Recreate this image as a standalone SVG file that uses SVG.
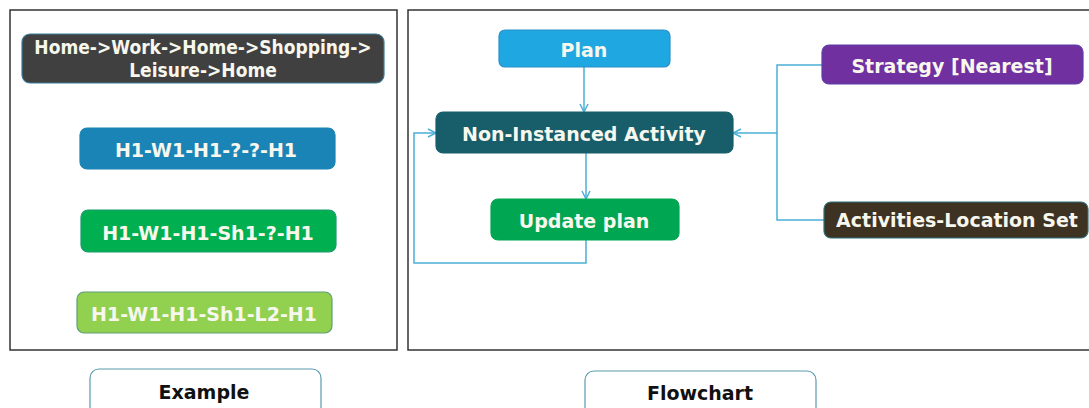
<svg xmlns="http://www.w3.org/2000/svg" width="1089" height="408" viewBox="0 0 1089 408">
<defs>
<marker id="arr" viewBox="0 0 10 10" refX="9" refY="5" markerWidth="10" markerHeight="10" markerUnits="userSpaceOnUse" orient="auto">
<path d="M1,1 L9,5 L1,9" fill="none" stroke="#4BAFD6" stroke-width="1.5"/>
</marker>
</defs>
<style>
.panel{fill:#fff;stroke:#333;stroke-width:1.5}
.node{stroke-width:1.2}
.t{font-family:"DejaVu Sans","Liberation Sans",Arial,sans-serif;font-weight:bold;fill:#F7F7EE;text-anchor:middle;font-size:19px}
.tc{font-family:"DejaVu Sans Condensed","DejaVu Sans","Liberation Sans",Arial,sans-serif;font-stretch:condensed;font-weight:bold;fill:#F7F7EE;text-anchor:middle;font-size:19px}
.lbl{font-family:"DejaVu Sans","Liberation Sans",Arial,sans-serif;font-weight:bold;fill:#111;text-anchor:middle;font-size:19px}
.cap{fill:#fff;stroke:#5A9AAE;stroke-width:1.2}
.conn{fill:none;stroke:#4BAFD6;stroke-width:1.5}
</style>
<rect width="1089" height="408" fill="#fff"/>
<rect class="panel" x="10" y="10" width="387" height="340"/>
<rect class="panel" x="408" y="10" width="690" height="340"/>

<g id="connectors">
<path class="conn" d="M584,67 V112" marker-end="url(#arr)"/>
<path class="conn" d="M586,153 V199" marker-end="url(#arr)"/>
<path class="conn" d="M586,240 V263 H414 V133 H436" marker-end="url(#arr)"/>
<path class="conn" d="M822,65 H777 V220 H824"/>
<path class="conn" d="M777,133 H733" marker-end="url(#arr)"/>
</g>

<g id="n-trip">
<rect class="node" x="22" y="34" width="362" height="49" rx="8" fill="#404040" stroke="#3A7C99"/>
<text class="tc" x="203" y="54">Home-&gt;Work-&gt;Home-&gt;Shopping-&gt;</text>
<text class="tc" x="203" y="77">Leisure-&gt;Home</text>
</g>
<g id="n-h1">
<rect class="node" x="80" y="128" width="255" height="41" rx="7" fill="#1A84B6" stroke="#1A84B6"/>
<text class="t" x="206" y="157">H1-W1-H1-?-?-H1</text>
</g>
<g id="n-h2">
<rect class="node" x="81" y="210" width="255" height="42" rx="7" fill="#00B050" stroke="#1A9A70"/>
<text class="t" x="208" y="240">H1-W1-H1-Sh1-?-H1</text>
</g>
<g id="n-h3">
<rect class="node" x="77" y="292" width="255" height="41" rx="7" fill="#92D050" stroke="#5E9E78"/>
<text class="t" x="204" y="321">H1-W1-H1-Sh1-L2-H1</text>
</g>
<g id="n-example">
<rect class="cap" x="90" y="369" width="231" height="50" rx="9"/>
<text class="lbl" x="204" y="399">Example</text>
</g>

<g id="n-plan">
<rect class="node" x="499" y="30" width="171" height="37" rx="6" fill="#1FA7E1" stroke="#2B8FC8"/>
<text class="t" x="584" y="57">Plan</text>
</g>
<g id="n-nonins">
<rect class="node" x="436" y="112" width="297" height="41" rx="7" fill="#175E6A" stroke="#175E6A"/>
<text class="t" x="584" y="141">Non-Instanced Activity</text>
</g>
<g id="n-update">
<rect class="node" x="491" y="199" width="188" height="41" rx="7" fill="#00A651" stroke="#00A651"/>
<text class="t" x="584" y="228">Update plan</text>
</g>
<g id="n-strategy">
<rect class="node" x="822" y="45" width="261" height="39" rx="7" fill="#7030A0" stroke="#5B3EA8"/>
<text class="t" x="952" y="73" font-size="18.5">Strategy [Nearest]</text>
</g>
<g id="n-actloc">
<rect class="node" x="824" y="202" width="264" height="36" rx="7" fill="#3E3222" stroke="#2F6F7A"/>
<text class="t" x="957" y="227" font-size="18.5">Activities-Location Set</text>
</g>
<g id="n-flowchart">
<rect class="cap" x="585" y="371" width="231" height="50" rx="9"/>
<text class="lbl" x="700" y="400">Flowchart</text>
</g>
</svg>
